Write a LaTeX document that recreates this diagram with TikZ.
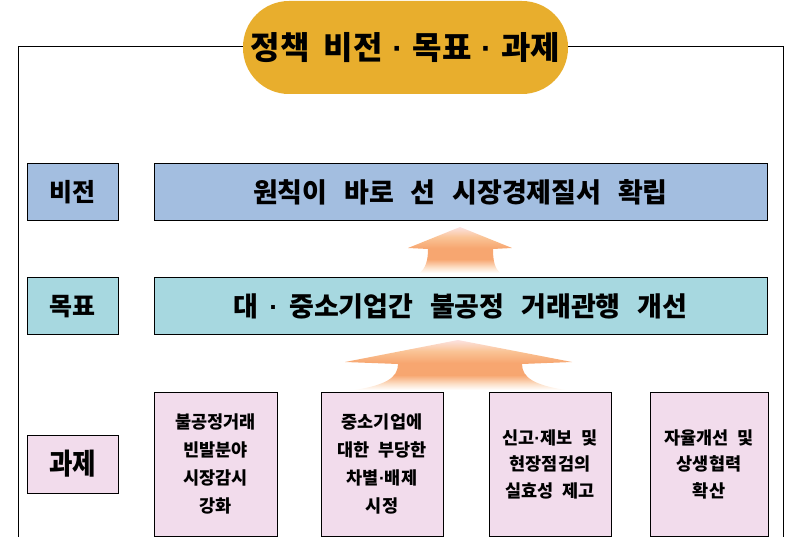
\documentclass[tikz,border=0pt]{standalone}
\usepackage{fontspec}
\usepackage{graphicx}
\newfontfamily\kr{Noto Sans CJK KR}
\newfontfamily\latn{Liberation Sans}
\newcommand\gapw{\hspace{0.62em}}
\newcommand\mdot{{\latn\bfseries ·}}
\definecolor{titlegold}{RGB}{232,174,45}
\definecolor{visionblue}{RGB}{163,190,224}
\definecolor{goalcyan}{RGB}{167,216,224}
\definecolor{taskpink}{RGB}{242,220,236}
\definecolor{arrpale}{RGB}{252,226,224}
\definecolor{arrpeach}{RGB}{250,196,150}
\definecolor{arrorange}{RGB}{247,166,112}
\pgfdeclareverticalshading{arrowshade}{100bp}{color(0bp)=(white); color(25bp)=(white); color(31bp)=(arrpeach!50!white); color(40bp)=(arrorange); color(52bp)=(arrorange); color(64bp)=(arrpeach); color(75bp)=(arrpale); color(100bp)=(arrpale)}
\tikzset{
  boxbase/.style={draw=black, line width=1pt, inner sep=0pt, align=center, font=\kr\bfseries},
  labelbox/.style={boxbase, minimum width=91pt, minimum height=57pt},
  barbox/.style={boxbase, minimum width=613pt, minimum height=57pt},
  taskbox/.style={boxbase, fill=taskpink, minimum height=144pt},
  uparrow/.style={shading=arrowshade}
}
\begin{document}
\begin{tikzpicture}[x=1pt,y=-1pt]
\useasboundingbox (0,0) rectangle (806,537);
% frame
\draw[line width=1pt] (18,537) -- (18,47) -- (783,47) -- (783,537);
% title
\node[fill=titlegold, rounded corners=46pt, minimum width=325pt, minimum height=93pt, inner sep=0pt,
      font=\kr\bfseries\fontsize{32}{36}\selectfont] (title) at (405.5,47.5)
  {정책\hspace{0.45em}비전\hspace{0.3em}\mdot\hspace{0.3em}목표\hspace{0.3em}\mdot\hspace{0.3em}과제};
% labels
\node[labelbox, fill=visionblue, font=\kr\bfseries\fontsize{25}{30}\selectfont] (lvision) at (72.5,192.5) {비전};
\node[labelbox, fill=goalcyan, font=\kr\bfseries\fontsize{25}{30}\selectfont] (lgoal) at (72.5,306.5) {목표};
\node[labelbox, fill=taskpink, minimum height=58pt, font=\kr\bfseries\fontsize{29}{32}\selectfont] (ltask) at (72.5,464) {\scalebox{0.88}[1]{과제}};
% bars
\node[barbox, fill=visionblue, font=\kr\bfseries\fontsize{27}{30}\selectfont] (vision) at (460.5,192.5)
  {원칙이\gapw 바로\gapw 선\gapw 시장경제질서\gapw 확립};
\node[barbox, fill=goalcyan, font=\kr\bfseries\fontsize{27}{30}\selectfont] (goal) at (460.5,306.5)
  {대\hspace{0.4em}\mdot\hspace{0.4em}중소기업간\gapw 불공정\gapw 거래관행\gapw 개선};
% arrows
\shade[uparrow] (460,227) -- (512,248) -- (493,249) .. controls (493,262) and (495,268) .. (500,273)
  -- (420,273) .. controls (425,268) and (428,262) .. (428,249) -- (408,248) -- cycle;
\shade[uparrow] (458,340) -- (572,362) -- (522,364) .. controls (522,378) and (535,385) .. (565,390)
  -- (355,390) .. controls (385,385) and (398,378) .. (398,364) -- (345,362) -- cycle;
% tasks
\node[taskbox, minimum width=123pt, font=\kr\bfseries\fontsize{17.5}{28.3}\selectfont] (t1) at (215.5,464)
  {불공정거래\\빈발분야\\시장감시\\강화};
\node[taskbox, minimum width=122pt, font=\kr\bfseries\fontsize{17.5}{28.3}\selectfont] (t2) at (382,464)
  {중소기업에\\대한\hspace{0.3em} 부당한\\차별\mdot 배제\\시정};
\node[taskbox, minimum width=122pt, font=\kr\bfseries\fontsize{17.5}{26.5}\selectfont] (t3) at (550,464)
  {신고\mdot 제보\hspace{0.3em} 및\\현장점검의\\실효성\hspace{0.3em} 제고};
\node[taskbox, minimum width=118pt, font=\kr\bfseries\fontsize{17.5}{26.5}\selectfont] (t4) at (709,464)
  {자율개선\hspace{0.3em} 및\\상생협력\\확산};
\end{tikzpicture}
\end{document}
